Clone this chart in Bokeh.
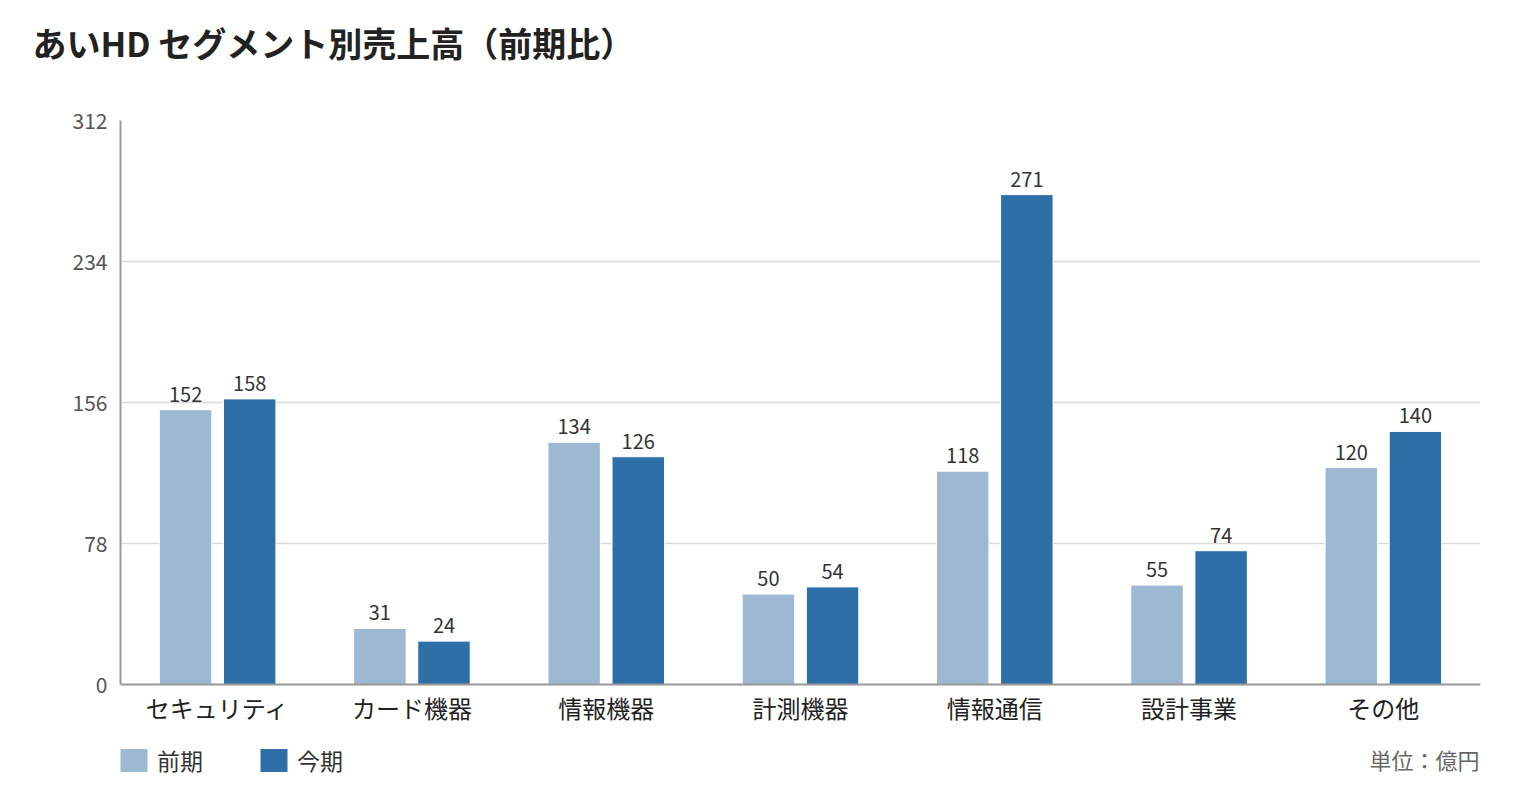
from bokeh.plotting import figure
from bokeh.models import ColumnDataSource, FactorRange, Range1d, Legend, LegendItem, Label, FixedTicker, Span, Title
from bokeh.transform import dodge
from bokeh.embed import file_html
from bokeh.resources import INLINE

FONT = "Noto Sans CJK JP"

segments = ["セキュリティ", "カード機器", "情報機器", "計測機器", "情報通信", "設計事業", "その他"]
prev_sales = [152, 31, 134, 50, 118, 55, 120]
curr_sales = [158, 24, 126, 54, 271, 74, 140]
y_ticks = [0, 78, 156, 234, 312]
y_max = 312

PREV_COLOR = "#9db8d3"
CURR_COLOR = "#2e6fa7"

# plot area: value axis 564px tall, 100px below the zero line kept for labels + legend
AXIS_PX = 564
BELOW_PX = 100

source = ColumnDataSource(data={
    "seg": segments,
    "prev": prev_sales,
    "curr": curr_sales,
    "prev_txt": [str(v) for v in prev_sales],
    "curr_txt": [str(v) for v in curr_sales],
})

p = figure(width=1504, height=784, x_range=FactorRange(*segments),
           y_range=Range1d(-y_max * BELOW_PX / AXIS_PX, y_max),
           x_axis_location=None, output_backend="svg", toolbar_location=None,
           min_border_left=120, min_border_right=24, min_border_top=120, min_border_bottom=0)

r_prev = p.vbar(x=dodge("seg", -0.165, range=p.x_range), top="prev", width=0.27,
                source=source, color=PREV_COLOR, line_color="white", line_width=1)
r_curr = p.vbar(x=dodge("seg", 0.165, range=p.x_range), top="curr", width=0.27,
                source=source, color=CURR_COLOR, line_color="white", line_width=1)

for col, off in (("prev", -0.165), ("curr", 0.165)):
    p.text(x=dodge("seg", off, range=p.x_range), y=col, text=col + "_txt", source=source,
           text_align="center", text_baseline="bottom", y_offset=-8,
           text_font_size="20px", text_color="#333333", text_font={"value": FONT})

# category labels under the zero line
p.text(x="seg", y=0, text="seg", source=source, text_align="center", text_baseline="top",
       y_offset=5, text_font_size="24px", text_color="#222222", text_font={"value": FONT})

# zero line
p.add_layout(Span(location=0, dimension="width", line_color="#999999", line_width=2))

# value axis
p.outline_line_color = None
p.xgrid.grid_line_color = None
p.ygrid.grid_line_color = "#d9d9d9"
p.ygrid.grid_line_width = 1.5
p.ygrid.ticker = FixedTicker(ticks=y_ticks)
p.yaxis.ticker = FixedTicker(ticks=y_ticks)
p.yaxis.bounds = (0, y_max)
p.yaxis.axis_line_color = "#999999"
p.yaxis.axis_line_width = 2
p.yaxis.major_tick_line_color = None
p.yaxis.minor_tick_line_color = None
p.yaxis.major_label_text_font = FONT
p.yaxis.major_label_text_font_size = "21px"
p.yaxis.major_label_text_color = "#555555"
p.yaxis.major_label_standoff = 7

# spacer between the title and the plot area
p.add_layout(Title(text=" ", text_font_size="1px", standoff=51), "above")

# title
p.title.text = "あいHD セグメント別売上高（前期比）"
p.title.align = "left"
p.title.offset = -88
p.title.standoff = 0
p.title.text_font = FONT
p.title.text_font_size = "34px"
p.title.text_font_style = "bold"
p.title.text_color = "#222222"

# unit note (screen units are relative to the plot frame, y upwards)
p.add_layout(Label(x=1359, y=26, x_units="screen", y_units="screen",
                   text="単位：億円", text_font=FONT, text_font_size="22px",
                   text_color="#666666", text_align="right", text_baseline="middle"))

legend = Legend(items=[LegendItem(label="前期", renderers=[r_prev]),
                       LegendItem(label="今期", renderers=[r_curr])],
                orientation="horizontal", location=(-4, 7),
                glyph_width=35, glyph_height=30, label_standoff=6, spacing=53,
                padding=0, margin=0, border_line_color=None, background_fill_alpha=0,
                label_text_font=FONT, label_text_font_size="23px", label_text_color="#333333")
p.add_layout(legend)

open("out.html", "w").write(file_html(p, INLINE))
